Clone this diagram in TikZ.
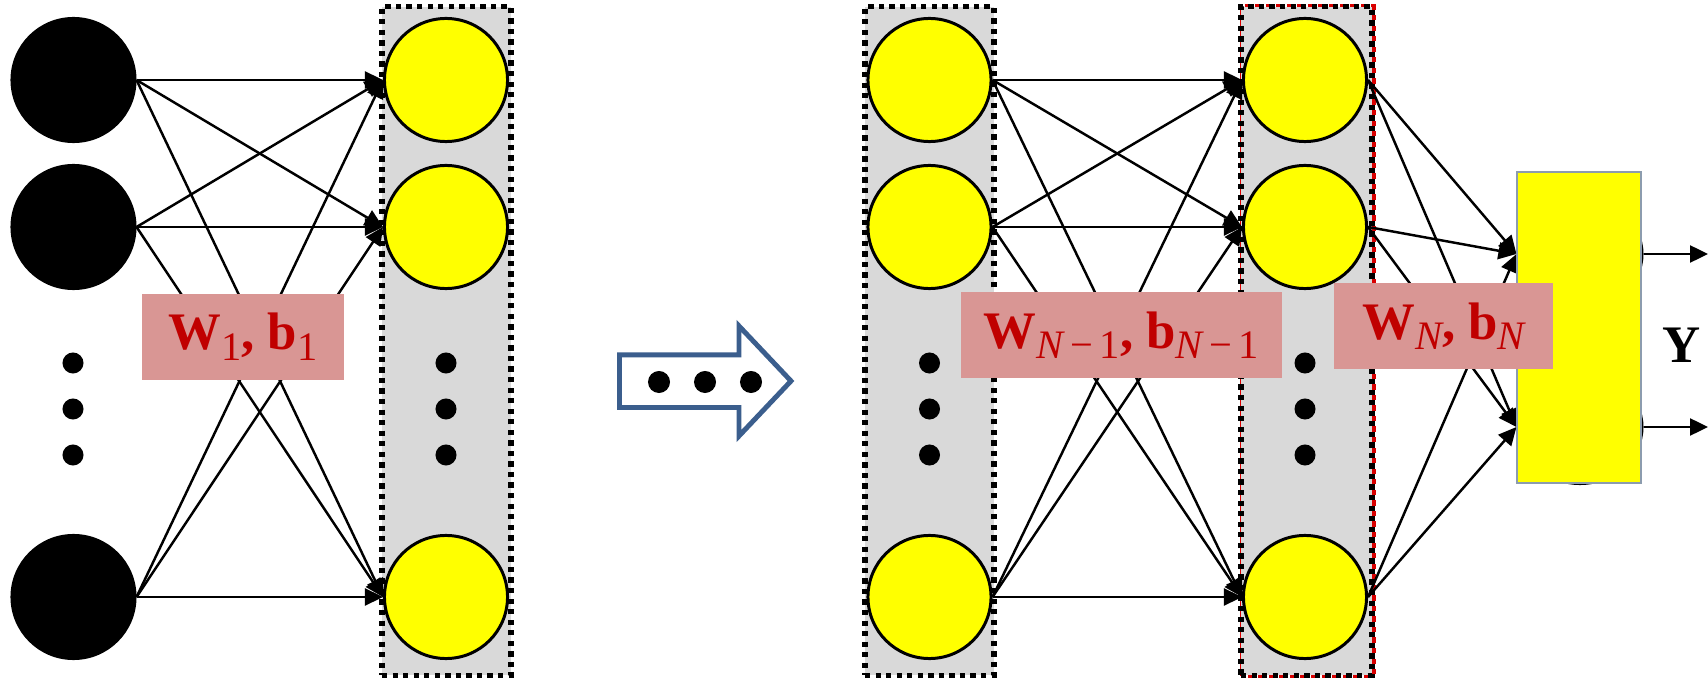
\documentclass[tikz,border=0pt]{standalone}
\usepackage{fontspec}
\usetikzlibrary{arrows.meta,shapes.geometric}
\newfontfamily\lblserif{Liberation Serif}
\newcommand{\lblsub}[1]{\raisebox{-0.2em}{\fontsize{11.5}{12}\selectfont\mdseries #1}}
\definecolor{lblfill}{HTML}{D99694}
\definecolor{lbltext}{HTML}{C00000}
\definecolor{boxgrey}{HTML}{D9D9D9}
\definecolor{arrowblue}{HTML}{3B5E8D}
\definecolor{neuronyellow}{HTML}{FFFF00}
\definecolor{rectedge}{HTML}{8C9CAE}
\begin{document}
\begin{tikzpicture}[x=0.01cm,y=-0.01cm,
  neuron/.style={circle, draw=black, line width=0.85pt, fill=neuronyellow, minimum size=1.23cm, inner sep=0pt},
  inneuron/.style={neuron, fill=black},
  dotnode/.style={circle, fill=black, minimum size=0.21cm, inner sep=0pt},
  layerbox/.style={draw=black, fill=boxgrey, line width=1.5pt, dash pattern=on 1.5pt off 1.5pt, minimum width=1.29cm, minimum height=6.68cm, inner sep=0pt},
  edge/.style={line width=0.7pt, -{Triangle[length=0.18cm,width=0.17cm]}},
  wlabel/.style={fill=lblfill, text=lbltext, inner sep=0pt, font=\lblserif\bfseries\fontsize{15}{17}\selectfont},
  blockarrow/.style={draw=arrowblue, line width=1.4pt, fill=white, miter limit=10},
]
\useasboundingbox (0,0) rectangle (1708,679);

% layer boxes
\node[layerbox] (box1) at (446.5,341) {};
\node[layerbox] (box2) at (929.5,341) {};
\node[layerbox, draw=red!85!black, fill=none, minimum width=1.31cm, dash phase=1.5pt] (box3red) at (1308,341) {};
\node[layerbox, minimum width=1.31cm] (box3) at (1306.5,341) {};

% input neurons
\node[inneuron] (i1) at (73.5,80) {};
\node[inneuron] (i2) at (73.5,227) {};
\node[inneuron] (i3) at (73.5,597) {};
% hidden layers
\foreach \c/\x in {a/446, b/929.5, c/1305}{
  \node[neuron] (\c1) at (\x,80) {};
  \node[neuron] (\c2) at (\x,227) {};
  \node[neuron] (\c3) at (\x,597) {};
}
% dots
\foreach \c/\x in {i/73, a/446, b/929.5, c/1305}{
  \node[dotnode] (\c dot1) at (\x,363) {};
  \node[dotnode] (\c dot2) at (\x,409) {};
  \node[dotnode] (\c dot3) at (\x,455) {};
}

% edges
\foreach \s in {1,2,3}{
  \foreach \t in {1,2,3}{
    \draw[edge] (i\s.east) -- (a\t.west);
    \draw[edge] (b\s.east) -- (c\t.west);
  }
}

% output neurons (hidden behind the box)
\node[neuron, ellipse, minimum size=0pt, minimum width=1.24cm, minimum height=1.13cm] (o1) at (1580,254) {};
\node[neuron, ellipse, minimum size=0pt, minimum width=1.24cm, minimum height=1.13cm] (o2) at (1580,427) {};
\foreach \s in {1,2,3}{
  \draw[edge] (c\s.east) -- (o1.west);
  \draw[edge] (c\s.east) -- (o2.west);
}
\node[draw=rectedge, line width=0.4pt, fill=neuronyellow, minimum width=1.24cm, minimum height=3.11cm, inner sep=0pt] (outbox) at (1579,327.5) {};

% output arrows
\coordinate (y1) at (1708,254);
\coordinate (y2) at (1708,427);
\draw[edge] (o1.east) -- (y1);
\draw[edge] (o2.east) -- (y2);
\node[font=\lblserif\bfseries\fontsize{15}{17}\selectfont] (ylab) at (1682,345) {Y};

% labels
\node[wlabel, minimum width=2.02cm, minimum height=0.865cm] (l1) at (243,336.8) {W\lblsub{1}, b\lblsub{1}};
\node[wlabel, minimum width=3.21cm, minimum height=0.86cm] (lN1) at (1121.5,335) {W\lblsub{\itshape N\upshape\,−\,1}, b\lblsub{\itshape N\upshape\,−\,1}};
\node[wlabel, minimum width=2.19cm, minimum height=0.854cm] (lN) at (1443.5,326) {W\lblsub{\itshape N}, b\lblsub{\itshape N}};

% block arrow
\draw[blockarrow] (619.5,354.8) -- (739,354.8) -- (739,326) -- (791,381) -- (739,436) -- (739,407.5) -- (619.5,407.5) -- cycle;
\node[dotnode, minimum size=0.22cm] (ad1) at (659,382) {};
\node[dotnode, minimum size=0.22cm] (ad2) at (705,382) {};
\node[dotnode, minimum size=0.22cm] (ad3) at (751,382) {};
\end{tikzpicture}
\end{document}
